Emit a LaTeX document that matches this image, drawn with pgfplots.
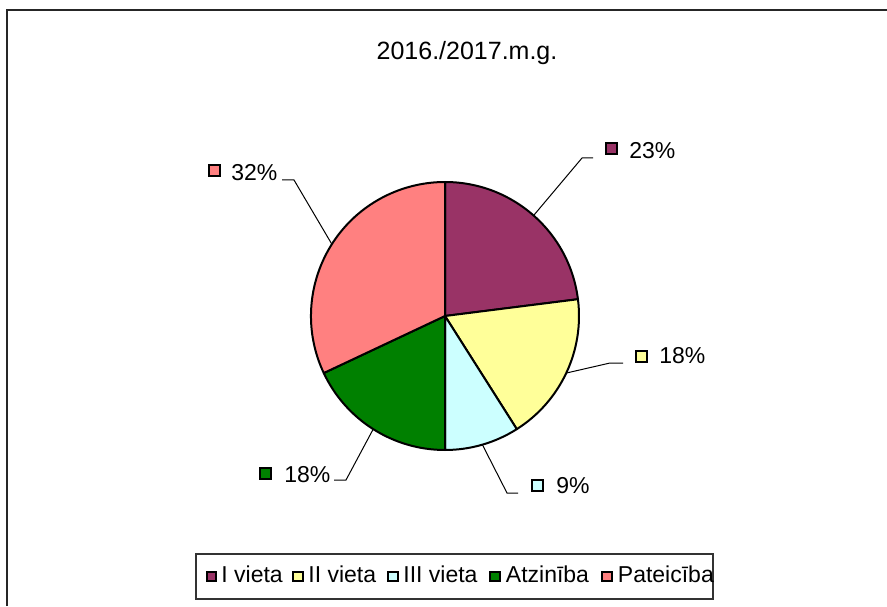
\documentclass[border=0pt]{standalone}
\usepackage{fontspec}
\setmainfont{Liberation Sans}
\usepackage{pgfplots}
\pgfplotsset{compat=1.18}

\definecolor{c0}{HTML}{993366}
\definecolor{c1}{HTML}{FFFF99}
\definecolor{c2}{HTML}{CCFFFF}
\definecolor{c3}{HTML}{008000}
\definecolor{c4}{HTML}{FF8080}

\begin{document}
\begin{tikzpicture}
% slice shares (%), clockwise from the top
\xdef\angcur{90}
\foreach \v [count=\i from 0] in {23,18,9,18,32}{
  \pgfmathsetmacro\angnext{\angcur-3.6*\v}
  \pgfmathsetmacro\angmid{(\angcur+\angnext)/2}
  \expandafter\xdef\csname aS\i\endcsname{\angcur}
  \expandafter\xdef\csname aE\i\endcsname{\angnext}
  \expandafter\xdef\csname aM\i\endcsname{\angmid}
  \xdef\angcur{\angnext}
}
\begin{axis}[
    width=443.5pt, height=303pt,
    scale only axis,
    hide axis,
    clip=false,
    xmin=-445, xmax=442,
    ymin=-290, ymax=316,
]
% frame (top and left edges only)
\draw[line width=1pt, black!85] (axis cs:-438,-290) -- (axis cs:-438,306) -- (axis cs:442,306);

% title
\node[anchor=base, inner sep=0, font=\fontsize{12.5}{15}\selectfont] at (axis cs:22,256.5) {2016./2017.m.g.};

% wedges
\pgfplotsinvokeforeach{0,...,4}{
  \filldraw[fill=c#1, draw=black, line width=1pt, line join=round]
    (axis cs:0,0) -- (axis cs:{134*cos(\csname aS#1\endcsname)},{134*sin(\csname aS#1\endcsname)})
    arc[start angle=\csname aS#1\endcsname, end angle=\csname aE#1\endcsname, radius=134] -- cycle;
}

% leader lines
\draw[line width=0.5pt] (axis cs:{134*cos(\csname aM0\endcsname)},{134*sin(\csname aM0\endcsname)}) -- (axis cs:137,158) -- (axis cs:148,158);
\draw[line width=0.5pt] (axis cs:{134*cos(\csname aM1\endcsname)},{134*sin(\csname aM1\endcsname)}) -- (axis cs:165,-47) -- (axis cs:178,-47);
\draw[line width=0.5pt] (axis cs:{134*cos(\csname aM2\endcsname)},{134*sin(\csname aM2\endcsname)}) -- (axis cs:62,-177) -- (axis cs:73,-177);
\draw[line width=0.5pt] (axis cs:{134*cos(\csname aM3\endcsname)},{134*sin(\csname aM3\endcsname)}) -- (axis cs:-99,-164) -- (axis cs:-111,-164);
\draw[line width=0.5pt] (axis cs:{134*cos(\csname aM4\endcsname)},{134*sin(\csname aM4\endcsname)}) -- (axis cs:-151,136) -- (axis cs:-163,136);

% data labels
\tikzset{lbl/.style={anchor=base west, inner sep=0, font=\fontsize{11.5}{14}\selectfont},
         key/.style={draw=black, line width=1pt, minimum size=5.5pt, inner sep=0, fill=#1}}
\node[key=c0] at (axis cs:166.5,167) {}; \node[lbl] at (axis cs:184,157) {23\%};
\node[key=c1] at (axis cs:196,-40) {};   \node[lbl] at (axis cs:214,-47) {18\%};
\node[key=c2] at (axis cs:92,-169) {};   \node[lbl] at (axis cs:111,-177) {9\%};
\node[key=c3] at (axis cs:-179.5,-157) {}; \node[lbl] at (axis cs:-161,-166) {18\%};
\node[key=c4] at (axis cs:-231,145) {};  \node[lbl] at (axis cs:-214,135) {32\%};

% legend
\draw[line width=0.6pt, black!80] (axis cs:-249,-238) rectangle (axis cs:268,-283);
\tikzset{lkey/.style={draw=black, line width=1pt, minimum size=4.6pt, inner sep=0, fill=#1}}
\node[lkey=c0] at (axis cs:-233.3,-260.7) {}; \node[lbl] at (axis cs:-224,-266.3) {I vieta};
\node[lkey=c1] at (axis cs:-147,-260.7) {};   \node[lbl] at (axis cs:-137,-266.3) {II vieta};
\node[lkey=c2] at (axis cs:-52,-260.7) {};    \node[lbl] at (axis cs:-42,-266.3) {III vieta};
\node[lkey=c3] at (axis cs:50,-260.7) {};     \node[lbl] at (axis cs:60.5,-266.3) {Atzinība};
\node[lkey=c4] at (axis cs:162,-260.7) {};    \node[lbl] at (axis cs:172.5,-266.3) {Pateicība};
\end{axis}
\pgfresetboundingbox
\path (current axis.south west) rectangle (current axis.north east);
\end{tikzpicture}
\end{document}
